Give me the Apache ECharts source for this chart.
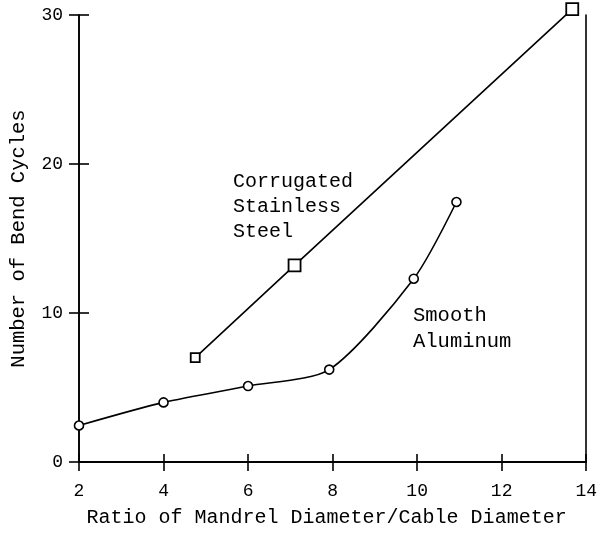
<!DOCTYPE html>
<html><head><meta charset="utf-8">
<script src="https://cdn.jsdelivr.net/npm/echarts@6/dist/echarts.min.js"></script>
<style>html,body{margin:0;padding:0;background:#fff}#c{width:600px;height:533px}</style>
</head><body><div id="c"></div>
<script>
const xTicks = [2, 4, 6, 8, 10, 12, 14];
const yTicks = [0, 10, 20, 30];
const corrugatedX = [4.75, 7.1, 13.67];
const corrugatedY = [7.0, 13.2, 30.4];
const aluminumX = [2, 4, 6, 7.92, 9.92, 10.93];
const aluminumY = [2.45, 4.0, 5.1, 6.2, 12.3, 17.45];
const FONT = '"Liberation Mono", "DejaVu Sans Mono", monospace';

const chart = echarts.init(document.getElementById('c'));
const baseX = {
  type: 'value', min: 2, max: 14, interval: 2,
  splitLine: {show: false},
  axisLine: {lineStyle: {color: '#000', width: 1.6}}
};
const baseY = {
  type: 'value', min: 0, max: 30, interval: 10,
  splitLine: {show: false},
  axisLine: {lineStyle: {color: '#000', width: 1.6}}
};
chart.setOption({
  animation: false,
  backgroundColor: '#fff',
  grid: {left: 78, right: 11, top: 15, bottom: 67},
  xAxis: [
    Object.assign({}, baseX, {
      position: 'bottom',
      axisTick: {show: true, length: 9, lineStyle: {color: '#000', width: 1.6}},
      axisLabel: {color: '#000', fontFamily: FONT, fontSize: 18, margin: 20,
        formatter: v => xTicks.includes(v) ? String(v) : ''},
      name: 'Ratio of Mandrel Diameter/Cable Diameter',
      nameLocation: 'middle', nameGap: 46,
      nameTextStyle: {color: '#000', fontFamily: FONT, fontSize: 20, padding: [0, 12, 0, 0]}
    }),
    Object.assign({}, baseX, {
      position: 'bottom', offset: 0,
      axisTick: {show: true, inside: true, length: 8, lineStyle: {color: '#000', width: 1.6}},
      axisLabel: {show: false}
    }),
    Object.assign({}, baseX, {
      position: 'top', max: 13.67,
      axisTick: {show: false}, axisLabel: {show: false}
    })
  ],
  yAxis: [
    Object.assign({}, baseY, {
      position: 'left',
      axisTick: {show: true, length: 10, lineStyle: {color: '#000', width: 1.6}},
      axisLabel: {color: '#000', fontFamily: FONT, fontSize: 18, margin: 16,
        formatter: v => yTicks.includes(v) ? String(v) : ''},
      name: 'Number of Bend Cycles',
      nameLocation: 'middle', nameGap: 50,
      nameTextStyle: {color: '#000', fontFamily: FONT, fontSize: 20.5}
    }),
    Object.assign({}, baseY, {
      position: 'left', offset: 0,
      axisTick: {show: true, inside: true, length: 10,
        interval: (i, v) => v === 10 || v === 20,
        lineStyle: {color: '#000', width: 1.6}},
      axisLabel: {show: false}
    }),
    Object.assign({}, baseY, {
      position: 'right', max: 31,
      axisTick: {show: false}, axisLabel: {show: false}
    })
  ],
  series: [
    {
      type: 'line', xAxisIndex: 0, yAxisIndex: 0, clip: false,
      data: corrugatedX.map((x, i) => [x, corrugatedY[i]]),
      symbol: 'rect',
      symbolSize: (v, p) => p.dataIndex === 0 ? 9 : 12,
      lineStyle: {color: '#000', width: 1.6},
      itemStyle: {color: '#fff', borderColor: '#000', borderWidth: 1.8}
    },
    {
      type: 'line', xAxisIndex: 0, yAxisIndex: 0, clip: false,
      data: aluminumX.map((x, i) => [x, aluminumY[i]]),
      smooth: 0.25,
      symbol: 'circle', symbolSize: 9,
      lineStyle: {color: '#000', width: 1.6},
      itemStyle: {color: '#fff', borderColor: '#000', borderWidth: 1.6}
    }
  ],
  graphic: [
    {type: 'text', left: 233, top: 169, style: {
      text: 'Corrugated\nStainless\nSteel', fill: '#000',
      font: '20px ' + FONT, lineHeight: 25}},
    {type: 'text', left: 413, top: 303, style: {
      text: 'Smooth\nAluminum', fill: '#000',
      font: '20.5px ' + FONT, lineHeight: 26}}
  ]
});
</script>
</body></html>
